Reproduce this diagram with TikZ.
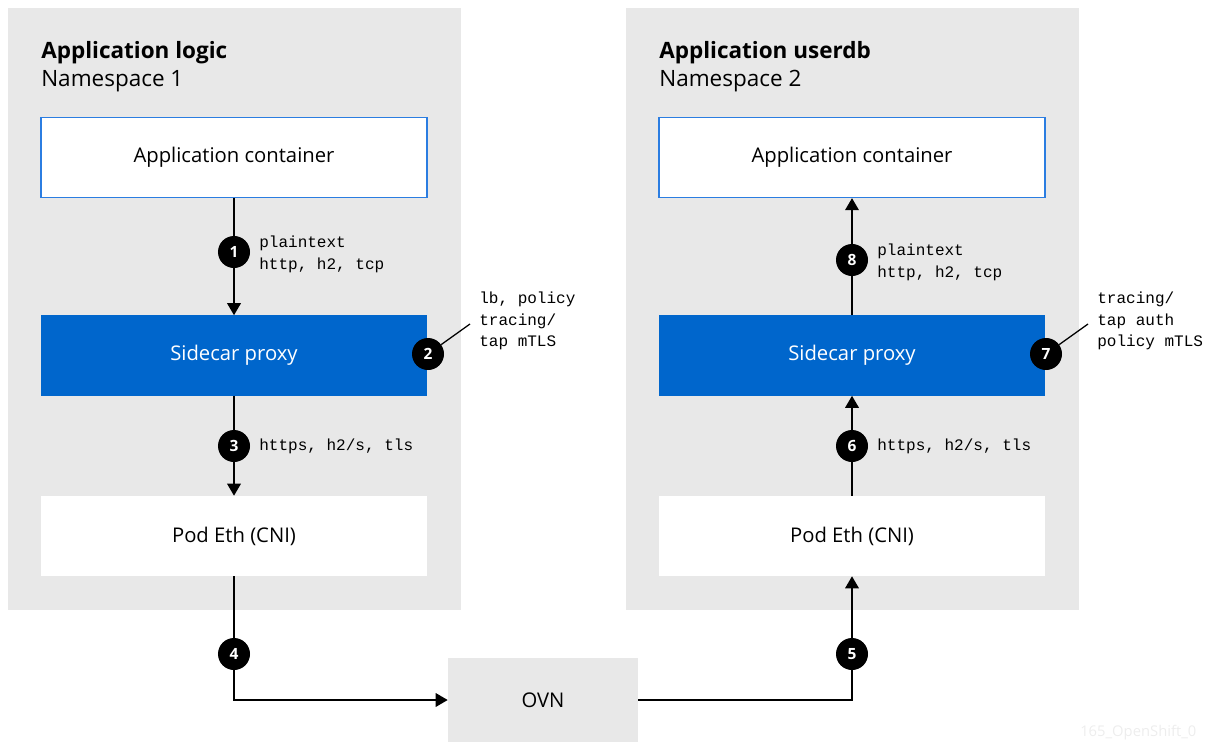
\documentclass[tikz,border=0pt]{standalone}
\usepackage{fontspec}
\setmainfont{Open Sans}
\setmonofont{Liberation Mono}
\usetikzlibrary{arrows.meta}

\definecolor{nsgray}{HTML}{E8E8E8}
\definecolor{proxyblue}{HTML}{0066CC}
\definecolor{edgeblue}{HTML}{2B7DE1}

\begin{document}
\begin{tikzpicture}[x=0.025cm,y=-0.025cm,
  panel/.style={fill=nsgray, minimum width=11.325cm, minimum height=15.05cm, inner sep=0},
  box/.style={minimum width=9.65cm, minimum height=2cm, inner sep=0, font=\fontsize{14.4}{17}\selectfont},
  appbox/.style={box, fill=white, draw=edgeblue, line width=0.9pt},
  proxybox/.style={box, fill=proxyblue, text=white},
  podbox/.style={box, fill=white},
  title/.style={anchor=base west, inner sep=0, font=\fontsize{16}{19}\selectfont},
  num/.style={circle, fill=black, text=white, minimum size=0.8cm, inner sep=0, font=\bfseries\fontsize{11}{11}\selectfont},
  note/.style={anchor=west, align=left, inner sep=0, font=\ttfamily\fontsize{11.4}{15.5}\selectfont},
  flow/.style={line width=1.1pt, -{Triangle[length=3mm,width=3.4mm]}},
  leader/.style={line width=0.9pt}
]
  \useasboundingbox (0,0) rectangle (1209,742);

  % Namespace 1 (left)
  \node[panel] (ns1) at (234.5,309) {};
  \node[title] (t1a) at (41,59) {\bfseries Application logic};
  \node[title] (t1b) at (41,87) {Namespace 1};
  \node[appbox] (app1) at (234,157.5) {Application container};
  \node[proxybox] (side1) at (234,355.5) {Sidecar proxy};
  \node[podbox] (pod1) at (234,536) {Pod Eth (CNI)};

  % Namespace 2 (right)
  \node[panel] (ns2) at (852.5,309) {};
  \node[title] (t2a) at (659,59) {\bfseries Application userdb};
  \node[title] (t2b) at (659,87) {Namespace 2};
  \node[appbox] (app2) at (852,157.5) {Application container};
  \node[proxybox] (side2) at (852,355.5) {Sidecar proxy};
  \node[podbox] (pod2) at (852,536) {Pod Eth (CNI)};

  % OVN between the two
  \node[fill=nsgray, minimum width=4.75cm, minimum height=2.1cm, inner sep=0,
        font=\fontsize{14.4}{17}\selectfont] (ovn) at (543,700) {OVN};

  % traffic path
  \draw[flow] (app1) -- (side1);
  \draw[flow] (side1) -- (pod1);
  \draw[flow] (pod1.south) |- (ovn.west);
  \draw[flow] (ovn.east) -| (pod2.south);
  \draw[flow] (pod2) -- (side2);
  \draw[flow] (side2) -- (app2);

  % numbered steps
  \node[num] (c1) at (234,252) {1};
  \node[num] (c2) at (428,354) {2};
  \node[num] (c3) at (234,446) {3};
  \node[num] (c4) at (234,654) {4};
  \node[num] (c5) at (852,654) {5};
  \node[num] (c6) at (852,446) {6};
  \node[num] (c7) at (1046,354) {7};
  \node[num] (c8) at (852,260) {8};

  \node[note] (n1) at (259,254) {plaintext\\http, h2, tcp};
  \node[note] (n3) at (259,446) {https, h2/s, tls};
  \node[note] (n6) at (877,446) {https, h2/s, tls};
  \node[note] (n8) at (877,262) {plaintext\\http, h2, tcp};
  \node[note] (n2) at (479,321) {lb, policy\\tracing/\\tap mTLS};
  \node[note] (n7) at (1097,321) {tracing/\\tap auth\\policy mTLS};

  \coordinate (e2) at (470,324);
  \coordinate (e7) at (1088,324);
  \draw[leader] (c2) -- (e2);
  \draw[leader] (c7) -- (e7);

  \node[anchor=base west, inner sep=0, text=black!7, font=\fontsize{10.5}{11}\selectfont] (wm) at (1080,736) {165\_OpenShift\_0};
\end{tikzpicture}
\end{document}
